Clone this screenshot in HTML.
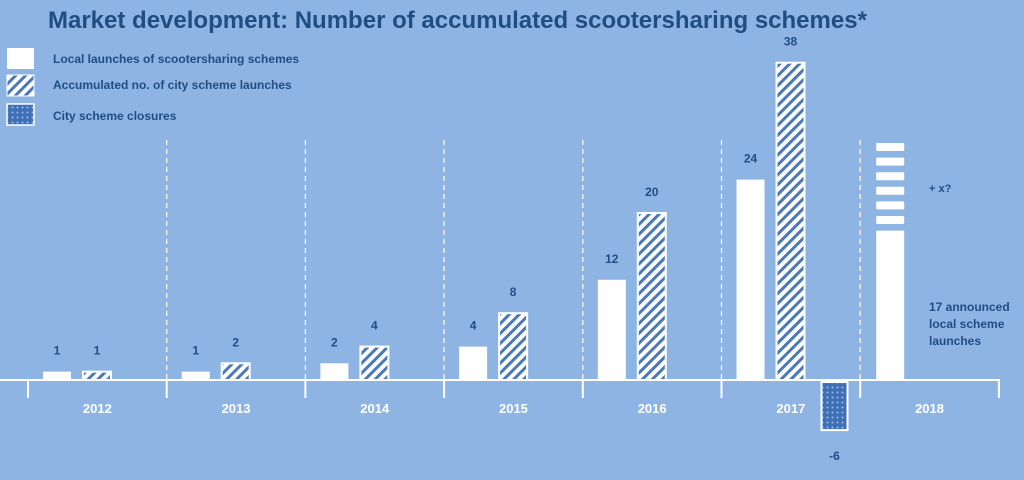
<!DOCTYPE html>
<html><head><meta charset="utf-8"><style>
html,body{margin:0;padding:0;background:#8eb4e3;}
svg{display:block;font-family:"Liberation Sans",sans-serif;}
</style></head><body>
<svg width="1024" height="480" viewBox="0 0 1024 480">
<defs>
<pattern id="hatch" width="7" height="7" patternUnits="userSpaceOnUse" patternTransform="rotate(45)">
<rect width="7" height="7" fill="#ffffff"/><rect width="3" height="7" fill="#4a78b8"/>
</pattern>
<pattern id="dots" width="5" height="5" patternUnits="userSpaceOnUse">
<rect width="5" height="5" fill="#3f6fb5"/><circle cx="2.5" cy="2.5" r="1" fill="#9fbde6"/>
</pattern>
</defs>
<text x="48" y="28" font-size="24" font-weight="bold" fill="#1f4e84">Market development: Number of accumulated scootersharing schemes*</text>
<g>
<rect x="7" y="48" width="27" height="21" fill="#fff"/>
<text x="53" y="63" font-size="12" font-weight="bold" fill="#1f4e84">Local launches of scootersharing schemes</text>
<rect x="7" y="75" width="27" height="21" fill="url(#hatch)" stroke="#fff" stroke-width="1"/>
<text x="53" y="89" font-size="12" font-weight="bold" fill="#1f4e84">Accumulated no. of city scheme launches</text>
<rect x="7" y="104" width="27" height="21" fill="url(#dots)" stroke="#fff" stroke-width="1.5"/>
<text x="53" y="120" font-size="12" font-weight="bold" fill="#1f4e84">City scheme closures</text>
</g>
<g id="plot"></g>
</svg>
<script>
const years=["2012","2013","2014","2015","2016","2017","2018"];
const localLaunches=[1,1,2,4,12,24,17];
const accumulated=[1,2,4,8,20,38,null];
const closures=[0,0,0,0,0,-6,0];
const localLabels=["1","1","2","4","12","24",""];
const accLabels=["1","2","4","8","20","38",""];
const NS="http://www.w3.org/2000/svg";
const g=document.getElementById("plot");
const x0=28,cw=138.7,base=380,k=8.35;
const xs=i=>x0+i*cw;
const ys=v=>base-v*k;
function mk(t,a){const e=document.createElementNS(NS,t);for(const n in a)e.setAttribute(n,a[n]);g.appendChild(e);return e;}
// axis
let ax=mk("line",{x1:0,y1:base,x2:1000,y2:base,stroke:"#fff","stroke-width":2});


for(let i=0;i<=years.length;i++){
 const x=xs(i);
 let t=mk("line",{x1:x,y1:base,x2:x,y2:398,stroke:"#fff","stroke-width":2});
 
 
 if(i>0&&i<years.length){
  let d=mk("line",{x1:x,y1:140,x2:x,y2:base,stroke:"#fff","stroke-width":1.2,"stroke-dasharray":"5,4"});
  
  
 }
}
years.forEach((y,i)=>{
 const cx=xs(i)+cw/2;
 let yl=mk("text",{x:cx,y:413,"text-anchor":"middle","font-size":13,"font-weight":"bold",fill:"#fff"});
 yl.textContent=y;
 
 
 const bx=xs(i)+(i==6?16:15),bx2=xs(i)+55,w=28;
 const v=localLaunches[i];
 let b=mk("rect",{x:bx,y:ys(v),width:w,height:base-ys(v),fill:"#fff"});
 
 
 if(localLabels[i]){
  let l=mk("text",{x:bx+w/2,y:ys(v)-17,"text-anchor":"middle","font-size":12,"font-weight":"bold",fill:"#1f4e84"});
  l.textContent=localLabels[i];
  
  
 }
 const a=accumulated[i];
 if(a!==null){
  let b2=mk("rect",{x:bx2,y:ys(a),width:w,height:base-ys(a),fill:"url(#hatch)",stroke:"#fff","stroke-width":2});
  
  
  let l2=mk("text",{x:bx2+w/2,y:ys(a)-17,"text-anchor":"middle","font-size":12,"font-weight":"bold",fill:"#1f4e84"});
  l2.textContent=accLabels[i];
  
  
 }
 const c=closures[i];
 if(c<0){
  const cx3=xs(i)+100;
  let b3=mk("rect",{x:cx3,y:base+2,width:26,height:ys(c)-base-2,fill:"url(#dots)",stroke:"#fff","stroke-width":2});
  
  
  let l3=mk("text",{x:cx3+13,y:ys(c)+30,"text-anchor":"middle","font-size":12,"font-weight":"bold",fill:"#1f4e84"});
  l3.textContent=String(c);
  
  
 }
 if(i==6){
  for(let j=0;j<7;j++){
   let d=mk("rect",{x:bx,y:143+j*14.6,width:w,height:8,fill:"#fff",rx:1});
   
   
  }
  let px=mk("text",{x:929,y:192,"font-size":11,"font-weight":"bold",fill:"#1f4e84"});
  px.textContent="+ x?";
  
  
  ["17 announced","local scheme","launches"].forEach((s,j)=>{
   let t=mk("text",{x:929,y:311+j*17,"font-size":12,"font-weight":"bold",fill:"#1f4e84"});
   t.textContent=s;
   
   
  });
 }
});
</script>
</body></html>
